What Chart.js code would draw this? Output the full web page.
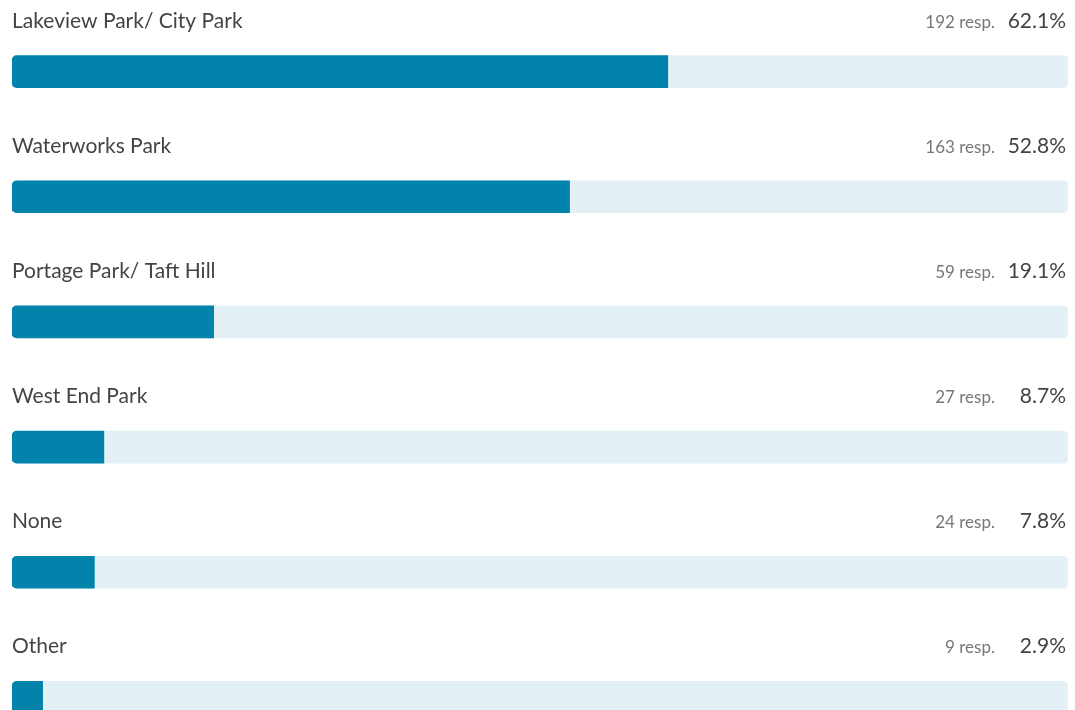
<!DOCTYPE html>
<html>
<head>
<meta charset="utf-8">
<script src="https://cdn.jsdelivr.net/npm/chart.js@4"></script>
<style>
    html, body { margin: 0; padding: 0; background: #fff; overflow: hidden; }
    #wrap { width: 1075px; height: 710px; overflow: hidden; }
</style>
</head>
<body>
<div id="wrap"><canvas id="parkChart" width="1075" height="770"></canvas></div>
<script>
const categories = ['Lakeview Park/ City Park', 'Waterworks Park', 'Portage Park/ Taft Hill', 'West End Park', 'None', 'Other'];
const responses = [192, 163, 59, 27, 24, 9];
const percents = [62.1, 52.8, 19.1, 8.7, 7.8, 2.9];
const trackValues = categories.map(() => 100);

// labels above each bar, counts and percentages on the right
const labelPlugin = {
    id: 'barLabels',
    afterDatasetsDraw(chart) {
        const ctx = chart.ctx;
        const y = chart.scales.y;
        const left = chart.chartArea.left;
        const right = chart.chartArea.right - 2;
        ctx.save();
        ctx.textBaseline = 'alphabetic';
        categories.forEach((name, i) => {
            const base = y.getPixelForValue(i) - 44;
            ctx.font = '21px Lato, "Open Sans", sans-serif';
            ctx.fillStyle = '#444';
            ctx.textAlign = 'left';
            ctx.fillText(name, left, base);

            ctx.textAlign = 'right';
            ctx.fillText(percents[i].toFixed(1) + '%', right, base);

            ctx.font = '17px Lato, "Open Sans", sans-serif';
            ctx.fillStyle = '#777';
            ctx.fillText(responses[i] + ' resp.', right - 71, base);
        });
        ctx.restore();
    }
};

const ctx = document.getElementById('parkChart').getContext('2d');
const parkChart = new Chart(ctx, {
    type: 'bar',
    data: {
        labels: categories,
        datasets: [
            {
                label: 'Responses',
                data: percents,
                backgroundColor: '#0283ab',
                borderRadius: { topLeft: 5, bottomLeft: 5, topRight: 0, bottomRight: 0 },
                borderSkipped: false,
                barThickness: 32,
                grouped: false,
                order: 1,
            },
            {
                label: 'Track',
                data: trackValues,
                backgroundColor: '#e3f0f6',
                borderRadius: 5,
                borderSkipped: false,
                barThickness: 32,
                grouped: false,
                order: 2,
            },
        ],
    },
    options: {
        indexAxis: 'y',
        responsive: false,
        animation: false,
        devicePixelRatio: 1,
        layout: { padding: { left: 12, right: 7, top: 9, bottom: 10 } },
        scales: {
            x: { min: 0, max: 100, display: false },
            y: { display: false },
        },
        plugins: {
            legend: { display: false },
            tooltip: { enabled: false },
        },
    },
    plugins: [labelPlugin],
});
</script>
</body>
</html>
